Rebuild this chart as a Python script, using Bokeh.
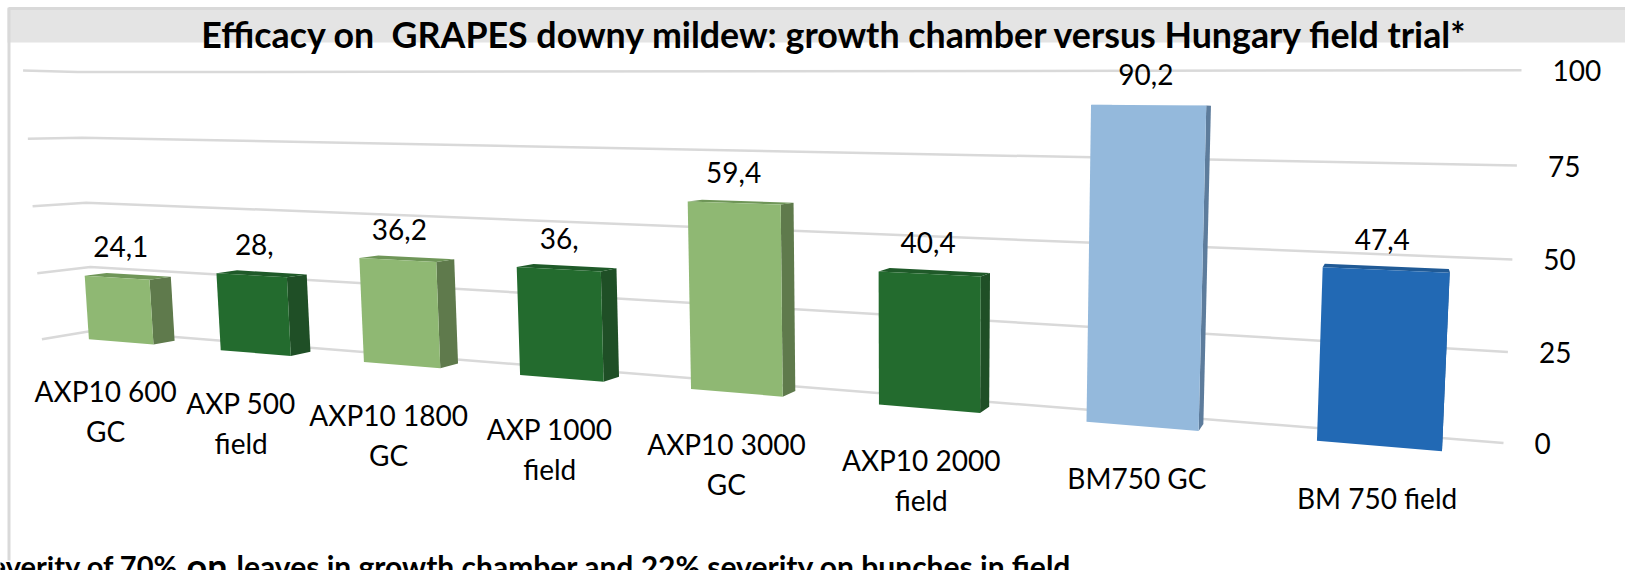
import numpy as np
from bokeh.plotting import figure
from bokeh.models import Range1d
from bokeh.core.properties import value
from bokeh.embed import file_html
from bokeh.resources import INLINE

# ---- data ----
categories = ["AXP10 600\nGC", "AXP 500\nfield", "AXP10 1800\nGC", "AXP 1000\nfield",
              "AXP10 3000\nGC", "AXP10 2000\nfield", "BM750 GC", "BM 750 field"]
values = [24.1, 28.0, 36.2, 36.0, 59.4, 40.4, 90.2, 47.4]
value_labels = ["24,1", "28,", "36,2", "36,", "59,4", "40,4", "90,2", "47,4"]
ticks = [0, 25, 50, 75, 100]
front_colors = ["#8FB873", "#236B2E", "#8FB873", "#236B2E", "#8FB873", "#236B2E", "#94B9DC", "#2269B4"]
side_colors = ["#5F7A4C", "#1F4F26", "#5F7A4C", "#1F4F26", "#5F7A4C", "#1F4F26", "#5D7C9C", "#1D5590"]
top_colors = ["#6F9658", "#1F5A29", "#6F9658", "#1F5A29", "#6F9658", "#1F5A29", "#A6C5E2", "#205A96"]
title = "Efficacy on\u00a0 GRAPES downy mildew: growth chamber versus Hungary field trial*"
footnote = ["severity of 70%", "on", "leaves in growth chamber and 22% severity on bunches in field"]

# ---- 3D projection of the chart box (perspective camera) ----
A = np.array([94.0, 330.0])    # wall, first category side, value 0
B = np.array([77.0, 71.6])     # wall, first category side, value max
C = np.array([1503.0, 442.5])  # wall, last category side, value 0
D = np.array([1521.0, 69.8])   # wall, last category side, value max
VP = np.array([1413.0, 110.0]) # vanishing point of the depth axis
LEFT_X = 41.4                  # where the side wall ends
wz = (LEFT_X - A[0]) / (VP[0] - LEFT_X)
M = np.array([D - C, D - B]).T
wx, wy = np.linalg.solve(M, C + B - A - D)
Ex = C * (1 + wx) - A
Ey = B * (1 + wy) - A

def proj(t, v, z):
    w = 1 + t * wx + v * wy + z * wz
    return (A + t * Ex + v * Ey + z * wz * VP) / w

GAP = 0.25
Z0, Z1 = 0.29, 0.71
VMAX = 100.0
FONT = value("Lato")

p = figure(width=1625, height=570, output_backend="svg", toolbar_location=None,
           x_range=Range1d(0, 1625), y_range=Range1d(570, 0), min_border=0,
           outline_line_color=None, background_fill_color="white", border_fill_color="white")
p.axis.visible = False
p.grid.visible = False
p.styles = {"position": "absolute", "left": "0px", "top": "0px"}

# frame decoration
p.quad(left=[7], right=[1625], top=[7], bottom=[42], fill_color="#E4E4E4", line_color=None)
p.line([8.5, 8.5, 1625], [560, 8, 8], line_color="#D9D9D9", line_width=3)

# gridlines on side wall and back wall
gx, gy = [], []
for tk in ticks:
    v = tk / VMAX
    pts = [proj(0, v, 1), proj(0, v, 0), proj(1, v, 0)]
    gx.append([q[0] for q in pts])
    gy.append([q[1] for q in pts])
p.multi_line(gx, gy, line_color="#D9D9D9", line_width=2.5)

# tick labels
ends = [proj(1, tk / VMAX, 0) for tk in ticks]
p.text([e[0] for e in ends], [e[1] + 0.5 for e in ends], text=[str(t) for t in ticks],
       x_offset=31, text_align="left", text_baseline="middle",
       text_font=FONT, text_font_size="28px", text_color="#000000")

# bars
n = len(values)
fx, fy, sx, sy, tx, ty = [], [], [], [], [], []
lab_x, lab_y = [], []
for i, val in enumerate(values):
    t0, t1 = (i + GAP) / n, (i + 1 - GAP) / n
    tc = (i + 0.5) / n
    v = val / VMAX
    f = [proj(t0, 0, Z1), proj(t1, 0, Z1), proj(t1, v, Z1), proj(t0, v, Z1)]
    s = [proj(t1, 0, Z1), proj(t1, 0, Z0), proj(t1, v, Z0), proj(t1, v, Z1)]
    u = [proj(t0, v, Z1), proj(t1, v, Z1), proj(t1, v, Z0), proj(t0, v, Z0)]
    fx.append([q[0] for q in f]); fy.append([q[1] for q in f])
    sx.append([q[0] for q in s]); sy.append([q[1] for q in s])
    tx.append([q[0] for q in u]); ty.append([q[1] for q in u])
    top = proj(tc, v, Z1)
    lab_x.append(top[0] + 4.5 - 8 * tc); lab_y.append(top[1])

p.patches(sx, sy, fill_color=side_colors, line_color=None)
p.patches(tx, ty, fill_color=top_colors, line_color=None)
p.patches(fx, fy, fill_color=front_colors, line_color=None)

# value labels
p.text(lab_x, lab_y, text=value_labels, y_offset=-31, text_align="center", text_baseline="middle",
       text_font=FONT, text_font_size="28px", text_color="#000000")

# category labels
LINE_H = 40
for i, cat in enumerate(categories):
    a = proj((i + 0.5) / n, 0, 0.98)
    lines = cat.split("\n")
    for j, line in enumerate(lines):
        p.text([a[0]], [a[1]], text=[line], x_offset=-1,
               y_offset=47 + j * LINE_H,
               text_align="center", text_baseline="middle",
               text_font=FONT, text_font_size="28px", text_color="#000000")

# title
p.text([835], [34], text=[title], text_align="center", text_baseline="middle",
       text_font=FONT, text_font_size="35.75px", text_font_style="bold", text_color="#000000")

# footnote (runs off the picture)
p.text([178], [565], text=[footnote[0]], text_align="right", text_baseline="alphabetic",
       text_font=FONT, text_font_size="29px", text_font_style="bold", text_color="#000000")
p.text([186], [565], text=[footnote[1]], text_align="left", text_baseline="alphabetic",
       text_font=FONT, text_font_size="36px", text_font_style="bold", text_color="#000000")
p.text([236], [565], text=[footnote[2]], text_align="left", text_baseline="alphabetic",
       text_font=FONT, text_font_size="30px", text_font_style="bold", text_color="#000000")

open("out.html", "w").write(file_html(p, INLINE))
